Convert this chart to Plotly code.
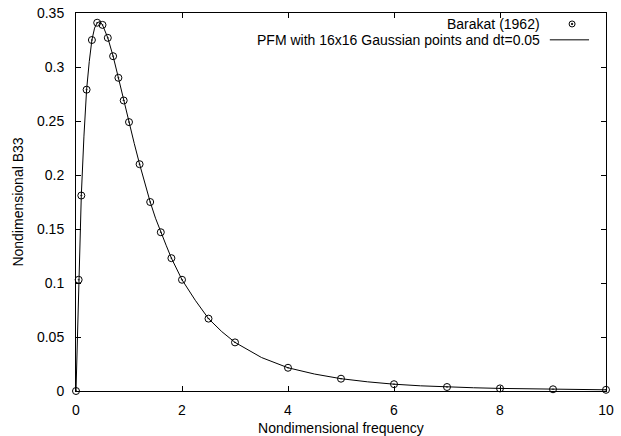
import plotly.graph_objects as go

# Barakat (1962) reference points
barakat_x = [0, 0.05, 0.1, 0.2, 0.3, 0.4, 0.5, 0.6, 0.7, 0.8, 0.9, 1.0, 1.2, 1.4, 1.6,
             1.8, 2.0, 2.5, 3.0, 4.0, 5.0, 6.0, 7.0, 8.0, 9.0, 10.0]
barakat_y = [0, 0.103, 0.181, 0.279, 0.325, 0.341, 0.339, 0.327, 0.310, 0.290, 0.269,
             0.249, 0.210, 0.175, 0.147, 0.123, 0.103, 0.067, 0.045, 0.0215, 0.0114,
             0.0063, 0.0037, 0.0024, 0.0016, 0.0011]

# PFM curve
pfm_x = [0, 0.05, 0.1, 0.15, 0.2, 0.25, 0.3, 0.35, 0.4, 0.45, 0.5, 0.6, 0.7, 0.8, 0.9,
         1.0, 1.1, 1.2, 1.3, 1.4, 1.5, 1.6, 1.7, 1.8, 1.9, 2.0, 2.25, 2.5, 2.75, 3.0,
         3.5, 4.0, 4.5, 5.0, 5.5, 6.0, 6.5, 7.0, 7.5, 8.0, 8.5, 9.0, 9.5, 10.0]
pfm_y = [0, 0.103, 0.181, 0.236, 0.279, 0.305, 0.325, 0.336, 0.341, 0.342, 0.339, 0.327,
         0.310, 0.290, 0.269, 0.249, 0.229, 0.210, 0.192, 0.175, 0.160, 0.147, 0.135,
         0.123, 0.113, 0.103, 0.084, 0.067, 0.055, 0.045, 0.031, 0.0215, 0.0157,
         0.0114, 0.0085, 0.0063, 0.0048, 0.0037, 0.0030, 0.0024, 0.0020, 0.0016,
         0.0013, 0.0011]

x_ticks = [0, 2, 4, 6, 8, 10]
y_ticks = [0, 0.05, 0.1, 0.15, 0.2, 0.25, 0.3, 0.35]
y_tick_text = ["0", "0.05", "0.1", "0.15", "0.2", "0.25", "0.3", "0.35"]

label_barakat = "Barakat (1962)"
label_pfm = "PFM with 16x16 Gaussian points and dt=0.05"

FONT = "Liberation Sans, Arial, Helvetica, sans-serif"

fig = go.Figure()
fig.add_trace(go.Scatter(x=pfm_x, y=pfm_y, mode="lines", name=label_pfm,
                         line=dict(color="black", width=1), showlegend=False))
fig.add_trace(go.Scatter(x=barakat_x, y=barakat_y, mode="markers", name=label_barakat,
                         marker=dict(symbol="circle-open-dot", size=7, color="black",
                                     line=dict(width=1, color="black")),
                         showlegend=False, cliponaxis=False))

axis_common = dict(showline=True, linecolor="black", linewidth=1, mirror="ticks",
                   ticks="inside", ticklen=5, tickcolor="black", tickwidth=1,
                   showgrid=False, zeroline=False,
                   tickfont=dict(family=FONT, size=14, color="black"))

fig.update_xaxes(range=[0, 10], tickvals=x_ticks, ticktext=[str(v) for v in x_ticks],
                 title=dict(text="Nondimensional frequency", standoff=8,
                            font=dict(family=FONT, size=14, color="black")),
                 ticklabelstandoff=6, **axis_common)
fig.update_yaxes(range=[0, 0.35], tickvals=y_ticks, ticktext=y_tick_text,
                 title=dict(text="Nondimensional B33", standoff=10,
                            font=dict(family=FONT, size=14, color="black")),
                 ticklabelstandoff=8, **axis_common)

# Legend (gnuplot style: text right-aligned, sample to the right)
leg_text_x = 0.879
leg_y1 = 0.971
leg_y2 = 0.929
leg_sym_x = 0.936
fig.add_annotation(x=leg_text_x, y=leg_y1, xref="paper", yref="paper", text=label_barakat,
                   showarrow=False, xanchor="right", yanchor="middle",
                   font=dict(family=FONT, size=14, color="black"))
fig.add_annotation(x=leg_text_x, y=leg_y2, xref="paper", yref="paper", text=label_pfm,
                   showarrow=False, xanchor="right", yanchor="middle",
                   font=dict(family=FONT, size=14, color="black"))
fig.add_shape(type="circle", xref="paper", yref="paper", xsizemode="pixel", ysizemode="pixel",
              xanchor=leg_sym_x, yanchor=leg_y1, x0=-3, x1=3, y0=-3, y1=3,
              line=dict(color="black", width=1))
fig.add_shape(type="circle", xref="paper", yref="paper", xsizemode="pixel", ysizemode="pixel",
              xanchor=leg_sym_x, yanchor=leg_y1, x0=-0.7, x1=0.7, y0=-0.7, y1=0.7,
              line=dict(color="black", width=1), fillcolor="black")
fig.add_shape(type="line", xref="paper", yref="paper", x0=0.894, x1=0.968,
              y0=leg_y2, y1=leg_y2, line=dict(color="black", width=1))

fig.update_layout(width=621, height=436, margin=dict(l=76, r=15, t=13, b=45, autoexpand=False),
                  paper_bgcolor="white", plot_bgcolor="white", showlegend=False,
                  font=dict(family=FONT, size=14, color="black"))

fig.write_html("out.html", config={"displayModeBar": False},
               post_script="document.body.style.margin='0';document.body.style.padding='0';")
